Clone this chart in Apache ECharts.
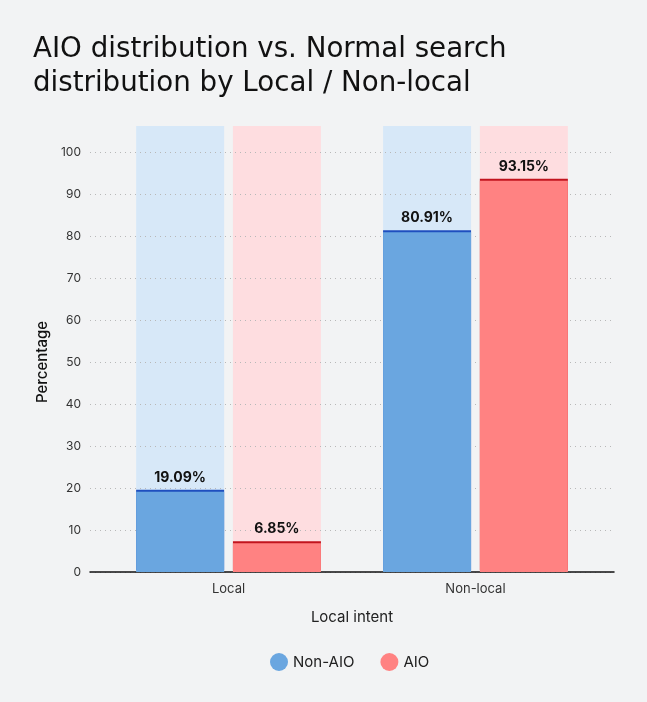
<!DOCTYPE html>
<html>
<head>
<meta charset="utf-8">
<script src="https://cdn.jsdelivr.net/npm/echarts@6/dist/echarts.min.js"></script>
<style>
  html, body { margin: 0; padding: 0; background: #f2f3f4; }
  #chart { width: 647px; height: 702px; }
</style>
</head>
<body>
<div id="chart"></div>
<script>
// data
var categories = ['Local', 'Non-local'];
var nonAio = [19.09, 80.91];
var aio = [6.85, 93.15];
var yTicks = [0, 100, 10]; // min, max, step

var chart = echarts.init(document.getElementById('chart'));

// x positions for the two groups (value axis so the axis line can run past the groups)
var pos = function (arr) {
    return arr.map(function (v, i) { return [i, v]; });
};
var fullBg = function () {
    return categories.map(function (c, i) { return [i, 106.2]; });
};

var barLabel = {
    show: true,
    position: 'top',
    distance: 7,
    formatter: function (p) { return p.value[1].toFixed(2) + '%'; },
    fontFamily: 'Inter',
    fontWeight: 'bold',
    fontSize: 14,
    color: '#111'
};

var option = {
    backgroundColor: '#f2f3f4',
    animation: false,
    title: {
        text: 'AIO distribution vs. Normal search\ndistribution by Local / Non-local',
        left: 28,
        top: 28,
        textStyle: {
            fontFamily: 'DejaVu Sans',
            fontWeight: 'normal',
            fontSize: 27.7,
            lineHeight: 34,
            color: '#111'
        }
    },
    legend: {
        data: ['Non-AIO', 'AIO'],
        top: 648,
        left: 265,
        icon: 'circle',
        itemWidth: 18,
        itemHeight: 18,
        itemGap: 26,
        textStyle: { fontFamily: 'Inter', fontSize: 15, color: '#222' }
    },
    grid: {
        left: 90,
        right: 33,
        top: 152,
        bottom: 130
    },
    xAxis: [{
        type: 'value',
        min: -0.561,
        max: 1.561,
        name: 'Local intent',
        nameLocation: 'middle',
        nameGap: 38,
        nameTextStyle: { fontFamily: 'Inter', fontSize: 15, color: '#222' },
        axisLine: { show: true, lineStyle: { color: '#111', width: 1.5 } },
        axisTick: { show: false },
        splitLine: { show: false },
        axisLabel: {
            customValues: [0, 1],
            formatter: function (v) { return categories[Math.round(v)]; },
            fontFamily: 'Inter',
            fontSize: 13,
            color: '#333',
            margin: 11
        }
    }, {
        type: 'value',
        min: -0.561,
        max: 1.561,
        show: false
    }],
    yAxis: {
        type: 'value',
        min: yTicks[0],
        max: yTicks[1],
        interval: yTicks[2],
        name: 'Percentage',
        nameLocation: 'middle',
        nameGap: 40,
        nameTextStyle: { fontFamily: 'Inter', fontSize: 15, fontWeight: 500, color: '#111' },
        axisLine: { show: false },
        axisTick: { show: false },
        axisLabel: { fontFamily: 'Inter', fontSize: 12, color: '#333', margin: 9 },
        splitLine: { show: true, lineStyle: { type: [1, 4], color: '#b8b8b8', width: 1 } }
    },
    series: [{
        name: 'bgNonAio',
        type: 'bar',
        xAxisIndex: 1,
        data: fullBg(),
        barWidth: 88,
        barGap: '10%',
        clip: false,
        silent: true,
        z: -1,
        itemStyle: { color: '#d7e8f8' }
    }, {
        name: 'bgAio',
        type: 'bar',
        xAxisIndex: 1,
        data: fullBg(),
        barWidth: 88,
        barGap: '10%',
        clip: false,
        silent: true,
        z: -1,
        itemStyle: { color: '#fedde0' }
    }, {
        name: 'Non-AIO',
        type: 'bar',
        data: pos(nonAio),
        barWidth: 88,
        barGap: '10%',
        label: barLabel,
        itemStyle: {
            color: '#6aa6e0',
            shadowColor: '#1f4fbf',
            shadowOffsetY: -2,
            shadowBlur: 0
        }
    }, {
        name: 'AIO',
        type: 'bar',
        data: pos(aio),
        barWidth: 88,
        barGap: '10%',
        label: barLabel,
        itemStyle: {
            color: '#ff8282',
            shadowColor: '#c2141e',
            shadowOffsetY: -2,
            shadowBlur: 0
        }
    }]
};

chart.setOption(option);
</script>
</body>
</html>
